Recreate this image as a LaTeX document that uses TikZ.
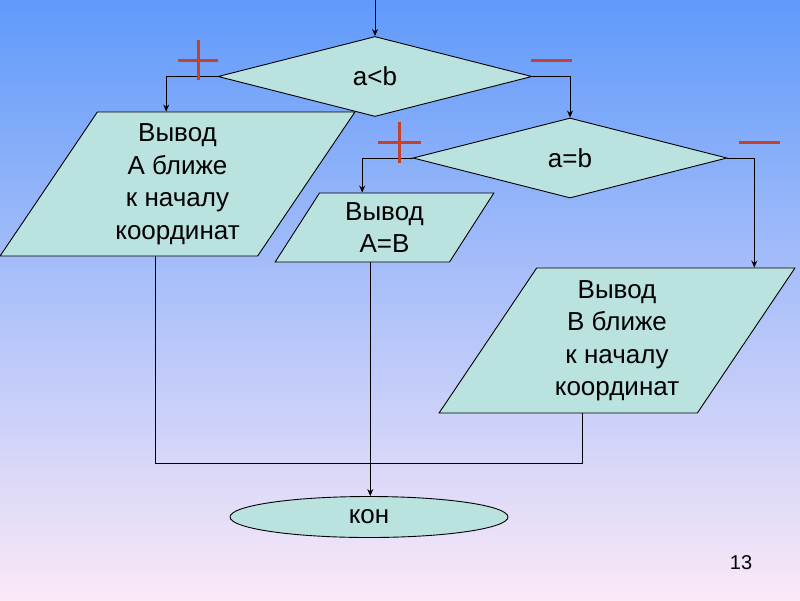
\documentclass[tikz,border=0pt]{standalone}
\usepackage{fontspec}
\setmainfont{Liberation Sans}
\usetikzlibrary{shapes.geometric,arrows.meta,calc,positioning}

\definecolor{skytop}{RGB}{96,154,250}
\definecolor{skymid}{RGB}{172,192,246}
\definecolor{skybot}{RGB}{251,233,248}
\definecolor{boxfill}{RGB}{186,227,224}
\definecolor{signred}{RGB}{196,66,42}

\begin{document}
\begin{tikzpicture}[x=1pt,y=-1pt,
    box/.style={draw=black, line width=0.9pt, fill=boxfill, align=center,
                inner sep=0pt, font=\fontsize{26}{32.5}\selectfont},
    cond/.style={box, diamond, minimum width=314pt, minimum height=80pt},
    io/.style={box, trapezium, trapezium stretches=true,
               trapezium left angle=58, trapezium right angle=122},
    flow/.style={line width=0.9pt, -{Stealth[length=7pt,width=6pt]}},
    sign/.style={line width=3pt, signred}]
                        % slide background
                        \shade[top color=skytop, middle color=skymid, bottom color=skybot]
                              (0,0) rectangle (800,600);
                        \useasboundingbox (0,0) rectangle (800,600);
                        % conditions
                        \node[cond] (lt) at (375,76.5) {a<b};
                        \node[cond] (eq) at (570,158) {a=b};
                        % outputs
                        \node[io, minimum width=355pt, minimum height=144pt] (outA) at (177.5,184)
                              {Вывод\\ А ближе\\ к началу\\ координат};
                        \node[io, trapezium left angle=62, trapezium right angle=118,
                              minimum width=219pt, minimum height=69pt] (outEq) at (384.5,227.5)
                              {Вывод\\ А=В};
                        \node[io, minimum width=356pt, minimum height=145pt] (outB) at (617,340.5)
                              {Вывод\\ В ближе\\ к началу\\ координат};
                        % end
                        \node[box, ellipse, minimum width=278pt, minimum height=41pt] (stop) at (369,517) {кон};
                        \node[font=\fontsize{20}{24}\selectfont] (page) at (741,563) {13};
                        % entry and branches
                        \coordinate (entry) at (375,0);
                        \draw[flow] (entry) -- (lt.north);
                        \draw[flow] (lt.west) -| ($(outA.top left corner)!0.267!(outA.top right corner)$);
                        \draw[flow] (lt.east) -| (eq.north);
                        \draw[flow] (eq.west) -| ($(outEq.top left corner)!0.245!(outEq.top right corner)$);
                        \draw[flow] (eq.east) -| ($(outB.top left corner)!0.84!(outB.top right corner)$);
                        % exits joined below
                        \coordinate (aOut) at ($(outA.bottom left corner)!0.604!(outA.bottom right corner)$);
                        \coordinate (bOut) at ($(outB.bottom left corner)!0.557!(outB.bottom right corner)$);
                        \coordinate (eqOut) at ($(outEq.bottom left corner)!0.547!(outEq.bottom right corner)$);
                        \draw[line width=0.9pt] (aOut) |- ($(bOut)+(0,50)$) -- (bOut);
                        \draw[flow] (eqOut) -- (eqOut |- stop.north);
                        % plus and minus marks
                        \draw[sign] ($(lt.west)+(-40,-16.5)$) -- ++(40,0)
                                    ($(lt.west)+(-19,-36.5)$) -- ++(0,40);
                        \draw[sign] ($(lt.east)+(-1,-16.5)$) -- ++(41,0);
                        \draw[sign] ($(eq.west)+(-35,-16)$) -- ++(43,0)
                                    ($(eq.west)+(-13,-36)$) -- ++(0,41);
                        \draw[sign] ($(eq.east)+(12,-16)$) -- ++(41,0);
                    \end{tikzpicture}
\end{document}
